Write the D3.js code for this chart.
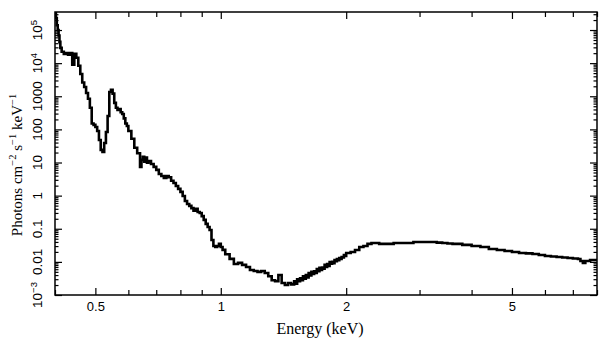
<!DOCTYPE html>
<html>
<head>
<meta charset="utf-8">
<script src="https://cdn.jsdelivr.net/npm/d3@7"></script>
<style>
html,body{margin:0;padding:0;background:#fff;}
svg{display:block;}
</style>
</head>
<body>
<svg id="chart" width="609" height="357"></svg>
<script>
// Energy bins (keV)
const energy = [
  0.400,0.402,0.404,0.406,0.408,0.410,0.412,0.415,0.420,0.425,0.430,0.435,0.440,0.445,0.450,0.455,
  0.460,0.465,0.470,0.475,0.480,0.485,0.490,0.495,0.500,0.505,0.510,0.515,0.520,0.525,0.530,0.535,
  0.540,0.545,0.550,0.555,0.560,0.565,0.570,0.575,0.580,0.585,0.590,0.595,0.600,0.610,0.620,0.630,
  0.640,0.645,0.650,0.655,0.660,0.665,0.670,0.680,0.690,0.700,0.710,0.720,0.730,0.740,0.750,0.760,
  0.770,0.780,0.790,0.800,0.810,0.820,0.830,0.840,0.850,0.860,0.870,0.880,0.890,0.900,0.910,0.920,
  0.930,0.940,0.950,0.960,0.970,0.980,0.990,1.000,1.010,1.025,1.050,1.075,1.100,1.125,1.150,1.175,
  1.200,1.225,1.250,1.275,1.300,1.325,1.350,1.375,1.400,1.425,1.450,1.475,
  1.5000,1.5125,1.5250,1.5375,1.5500,1.5625,1.5750,1.5875,1.6000,1.6125,1.6250,1.6375,
  1.6500,1.6625,1.6750,1.6875,1.7000,1.7125,1.7250,1.7375,1.7500,1.7625,1.7750,1.7875,
  1.8000,1.8125,1.8250,1.8375,1.8500,1.8625,1.8750,1.8875,1.9000,1.9125,1.9250,1.9375,
  1.9500,1.9625,1.9750,1.9875,
  2.000,2.050,2.100,2.150,2.200,2.250,2.300,2.400,2.500,2.600,2.700,2.800,2.900,3.000,3.100,3.200,
  3.300,3.400,3.500,3.600,3.800,4.000,4.200,4.400,4.600,4.800,5.000,5.200,5.400,5.600,5.800,6.000,
  6.200,6.400,6.600,6.800,7.000,7.200,7.300,7.400,7.500,7.700,7.900
];
// Photons cm^-2 s^-1 keV^-1
const flux = [
  3.3e5,2.3e5,1.4e5,1.0e5,6.8e4,4.4e4,2.9e4,2.2e4,1.9e4,2.0e4,1.8e4,2.0e4,9.0e3,1.9e4,1.45e4,8.3e3,
  4.7e3,2.6e3,1.9e3,1.25e3,840,450,150,137,118,89,48,24,21,39,83,254,
  1350,1560,1200,630,450,388,410,330,290,215,150,126,89,52,28,19,
  7.4,12,15,10.5,14,9.8,11,9.0,7.4,6.0,4.5,3.9,3.4,3.9,3.6,2.8,
  2.4,1.95,1.6,1.3,0.97,0.69,0.56,0.49,0.42,0.35,0.40,0.32,0.30,0.24,0.185,0.14,
  0.113,0.092,0.046,0.030,0.028,0.030,0.035,0.028,0.023,0.017,0.0123,0.0086,0.0093,0.0081,0.0070,0.0057,
  0.0053,0.0050,0.0053,0.0046,0.0037,0.0028,0.0026,0.0040,0.0023,0.0020,0.0023,0.0021,
  0.0026,0.0022,0.0030,0.0026,0.0032,0.0028,0.0037,0.0031,0.0040,0.0034,0.0046,0.0039,
  0.0050,0.0043,0.0052,0.0046,0.0061,0.0052,0.0066,0.0057,0.0068,0.0062,0.0081,0.0070,
  0.0086,0.0076,0.0099,0.0088,0.0100,0.0092,0.0114,0.0104,0.0122,0.0113,0.0131,0.0122,
  0.0141,0.0136,0.0162,0.0150,
  0.0186,0.0199,0.0229,0.028,0.030,0.035,0.037,0.035,0.035,0.037,0.037,0.037,0.040,0.040,0.040,0.040,
  0.038,0.037,0.036,0.035,0.0325,0.030,0.028,0.0245,0.0229,0.0214,0.0199,0.0186,0.0180,0.0173,0.0162,0.0151,
  0.0145,0.0141,0.0136,0.0131,0.0126,0.0122,0.0106,0.0093,0.0106,0.0114,0.0114
];
const xTicks = [0.5, 1, 2, 5];
const xTickLabels = ["0.5", "1", "2", "5"];
const xMinor = [0.4,0.6,0.7,0.8,0.9,3,4,6,7,8];
const yTickValues = [1e-3,1e-2,1e-1,1,10,100,1000,1e4,1e5];
// [base, superscript]
const yTickLabels = [["10","\u22123"],["0.01",""],["0.1",""],["1",""],["10",""],["100",""],["1000",""],["10","4"],["10","5"]];
const xDomain = [0.4, 8];
const yDomain = [1e-3, 3.5e5];

const svg = d3.select("#chart");
const L = 55, R = 597, T = 12, B = 295;
const x = d3.scaleLog().domain(xDomain).range([L, R]);
const y = d3.scaleLog().domain(yDomain).range([B, T]);

const data = energy.map((e,i)=>({e, v: flux[i]}));
data.push({e: xDomain[1], v: flux[flux.length-1]});

svg.append("defs").append("clipPath").attr("id","clip")
  .append("rect").attr("x",L).attr("y",T).attr("width",R-L).attr("height",B-T);

const line = d3.line().x(d=>x(d.e)).y(d=>y(d.v)).curve(d3.curveStepAfter);
svg.append("path").datum(data)
  .attr("clip-path","url(#clip)")
  .attr("d", line).attr("fill","none").attr("stroke","#000")
  .attr("stroke-width",2.6).attr("stroke-linejoin","miter");

// minor y ticks
const yMinor = [];
for (let d = -3; d <= 5; d++) for (let k = 2; k <= 9; k++) { const v = k*Math.pow(10,d); if (v < yDomain[1]) yMinor.push(v); }

const xb = d3.axisBottom(x).tickValues(xTicks).tickSizeInner(-7).tickSizeOuter(0).tickFormat((d,i)=>xTickLabels[i]);
const xbm = d3.axisBottom(x).tickValues(xMinor).tickSizeInner(-5).tickSizeOuter(0).tickFormat("");
const xt = d3.axisTop(x).tickValues(xTicks).tickSizeInner(-7).tickSizeOuter(0).tickFormat("");
const xtm = d3.axisTop(x).tickValues(xMinor).tickSizeInner(-5).tickSizeOuter(0).tickFormat("");
const yl = d3.axisLeft(y).tickValues(yTickValues).tickSizeInner(-7).tickSizeOuter(0).tickFormat("");
const ylm = d3.axisLeft(y).tickValues(yMinor).tickSizeInner(-3.5).tickSizeOuter(0).tickFormat("");
const yr = d3.axisRight(y).tickValues(yTickValues).tickSizeInner(-7).tickSizeOuter(0).tickFormat("");
const yrm = d3.axisRight(y).tickValues(yMinor).tickSizeInner(-3.5).tickSizeOuter(0).tickFormat("");

function styleAxis(sel){
  sel.select(".domain").remove();
  sel.selectAll(".tick line").attr("stroke","#000").attr("stroke-width",1.2);
}
const gxb = svg.append("g").attr("transform",`translate(0,${B})`).call(xb).call(styleAxis);
gxb.selectAll(".tick text").attr("y",7).attr("dy","0.71em")
   .attr("font-family","Liberation Sans, Arial, sans-serif").attr("font-size",13).attr("fill","#000");
svg.append("g").attr("transform",`translate(0,${B})`).call(xbm).call(styleAxis);
svg.append("g").attr("transform",`translate(0,${T})`).call(xt).call(styleAxis);
svg.append("g").attr("transform",`translate(0,${T})`).call(xtm).call(styleAxis);
svg.append("g").attr("transform",`translate(${L},0)`).call(yl).call(styleAxis);
svg.append("g").attr("transform",`translate(${L},0)`).call(ylm).call(styleAxis);
svg.append("g").attr("transform",`translate(${R},0)`).call(yr).call(styleAxis);
svg.append("g").attr("transform",`translate(${R},0)`).call(yrm).call(styleAxis);

// frame
svg.append("rect").attr("x",L).attr("y",T).attr("width",R-L).attr("height",B-T)
  .attr("fill","none").attr("stroke","#000").attr("stroke-width",1.5);

// y tick labels (rotated)
const yl_t = svg.append("g").selectAll("text").data(yTickValues).join("text")
  .attr("transform", d=>`translate(42,${y(d)}) rotate(-90)`)
  .attr("text-anchor","middle")
  .attr("font-family","Liberation Sans, Arial, sans-serif").attr("font-size",13.5).attr("fill","#000");
yl_t.each(function(d,i){
  const t = d3.select(this);
  const [base, sup] = yTickLabels[i];
  t.append("tspan").text(base);
  if (sup) t.append("tspan").attr("font-size",9.5).attr("dy",-5.5).text(sup);
});

// titles
svg.append("text").attr("x",320).attr("y",334).attr("text-anchor","middle")
  .attr("font-family","Liberation Serif, Times New Roman, serif").attr("font-size",16).attr("fill","#000")
  .text("Energy (keV)");
const yt = svg.append("text").attr("transform","translate(22,165) rotate(-90)").attr("text-anchor","middle")
  .attr("font-family","Liberation Serif, Times New Roman, serif").attr("font-size",15).attr("fill","#000");
const titleParts = [["Photons cm",0],["\u22122",1],[" s",0],["\u22121",1],[" keV",0],["\u22121",1]];
let raised = false;
titleParts.forEach(([txt, sup])=>{
  const ts = yt.append("tspan").text(txt);
  if (sup && !raised) { ts.attr("font-size",10.5).attr("dy",-6); raised = true; }
  else if (!sup && raised) { ts.attr("dy",6); raised = false; }
  else if (sup) ts.attr("font-size",10.5);
});
</script>
</body>
</html>
